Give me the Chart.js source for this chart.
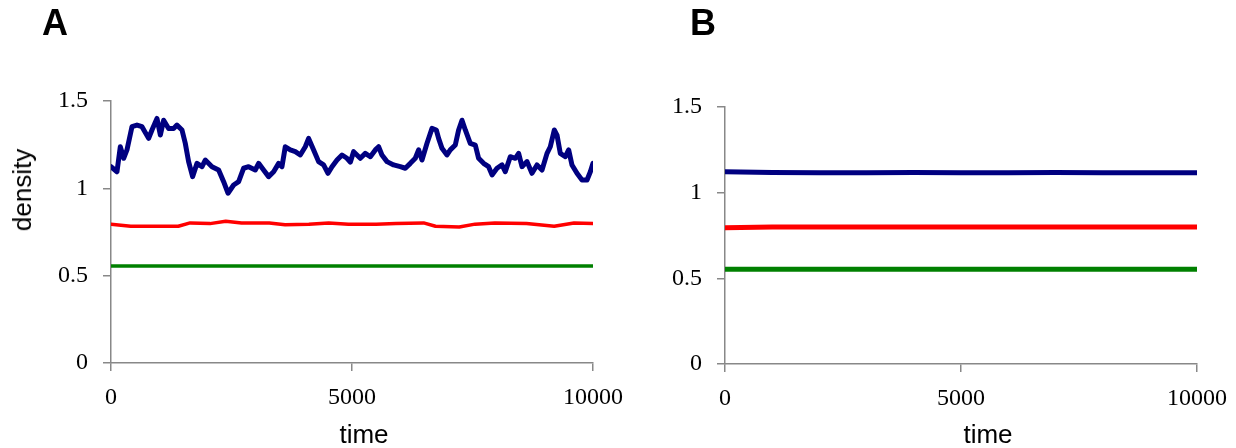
<!DOCTYPE html>
<html>
<head>
<meta charset="utf-8">
<script src="https://cdn.jsdelivr.net/npm/chart.js@4.4.1/dist/chart.umd.min.js"></script>
<style>
  html, body { margin: 0; padding: 0; background: #fff; }
  body { width: 1236px; height: 448px; position: relative; overflow: hidden; font-family: "Liberation Sans", Arial, sans-serif; color: #000; }
  canvas { position: absolute; top: 0; }
  #chartA { left: 0; }
  #chartB { left: 650px; }
  .panel { position: absolute; top: 5px; font-weight: bold; font-size: 36px; line-height: 36px; }
  .xtitle { position: absolute; top: 421px; font-size: 26px; line-height: 26px; transform: translateX(-50%); }
  .ytitle { position: absolute; left: 22px; top: 190px; font-size: 26px; line-height: 26px; white-space: nowrap; transform: translate(-50%, -50%) rotate(-90deg); }
</style>
</head>
<body>
<canvas id="chartA" width="650" height="448"></canvas>
<canvas id="chartB" width="586" height="448"></canvas>
<div class="panel" style="left:42px">A</div>
<div class="panel" style="left:690px">B</div>
<div class="ytitle">density</div>
<div class="xtitle" style="left:364px">time</div>
<div class="xtitle" style="left:988px">time</div>
<script>
// tick labels
const xTicks = [0, 5000, 10000];
const yTicks = [0, 0.5, 1, 1.5];

// panel A
const blueTimeA = [0, 124, 193, 263, 331, 435, 539, 643, 781, 850, 954, 1024, 1092, 1195, 1299, 1368, 1473, 1541, 1610, 1693,
  1784, 1888, 1956, 2095, 2233, 2337, 2427, 2544, 2648, 2752, 2855, 2993, 3063, 3166, 3270, 3374, 3478, 3547, 3616, 3720,
  3824, 3927, 4031, 4100, 4204, 4307, 4411, 4502, 4585, 4689, 4793, 4896, 4965, 5033, 5172, 5276, 5380, 5484, 5552, 5621,
  5726, 5863, 6002, 6106, 6210, 6313, 6382, 6452, 6556, 6660, 6749, 6797, 6867, 6971, 7039, 7143, 7212, 7282, 7351, 7454,
  7558, 7627, 7730, 7834, 7905, 8008, 8112, 8180, 8284, 8388, 8457, 8527, 8631, 8734, 8838, 8942, 9046, 9114, 9197, 9253,
  9322, 9426, 9495, 9564, 9668, 9772, 9876, 9945, 10000];
const blueA = [1.124, 1.095, 1.238, 1.172, 1.22, 1.353, 1.362, 1.353, 1.286, 1.334, 1.40, 1.305, 1.39, 1.343, 1.343, 1.362, 1.334, 1.258, 1.153, 1.067,
  1.143, 1.124, 1.162, 1.124, 1.105, 1.038, 0.972, 1.019, 1.038, 1.115, 1.124, 1.105, 1.143, 1.105, 1.067, 1.095, 1.143, 1.124, 1.238, 1.22,
  1.21, 1.191, 1.238, 1.286, 1.22, 1.153, 1.134, 1.086, 1.124, 1.162, 1.191, 1.172, 1.15, 1.21, 1.172, 1.20, 1.181, 1.22, 1.238, 1.191,
  1.153, 1.134, 1.124, 1.115, 1.143, 1.172, 1.22, 1.162, 1.258, 1.343, 1.334, 1.286, 1.229, 1.191, 1.22, 1.248, 1.334, 1.39, 1.334, 1.258,
  1.248, 1.172, 1.143, 1.124, 1.077, 1.115, 1.134, 1.095, 1.181, 1.172, 1.20, 1.124, 1.153, 1.086, 1.134, 1.105, 1.20, 1.238, 1.334, 1.305,
  1.20, 1.181, 1.22, 1.134, 1.086, 1.048, 1.048, 1.095, 1.143];

const redTimeA = [0, 410, 985, 1396, 1642, 2053, 2381, 2709, 3284, 3612, 4105, 4516, 4926, 5501, 5911, 6486, 6732, 7225, 7553, 7964, 8621, 9195, 9606, 10000];
const redA = [0.795, 0.783, 0.783, 0.783, 0.802, 0.798, 0.812, 0.802, 0.802, 0.791, 0.795, 0.802, 0.795, 0.795, 0.798, 0.802, 0.783, 0.779, 0.795, 0.802, 0.798, 0.783, 0.802, 0.798];

const greenTimeA = [0, 5000, 10000];
const greenA = [0.555, 0.555, 0.555];

// panel B
const timeB = [0, 1000, 2000, 3000, 4000, 5000, 6000, 7000, 8000, 9000, 10000];
const blueB = [1.122, 1.117, 1.116, 1.116, 1.117, 1.116, 1.116, 1.117, 1.116, 1.116, 1.116];
const redB = [0.795, 0.80, 0.80, 0.80, 0.80, 0.80, 0.80, 0.80, 0.80, 0.80, 0.80];
const greenB = [0.553, 0.553, 0.553, 0.553, 0.553, 0.553, 0.553, 0.553, 0.553, 0.553, 0.553];

function pts(xs, ys) {
  return xs.map((x, i) => ({ x: x, y: ys[i] }));
}

function line(xs, ys, color, width) {
  return { data: pts(xs, ys), borderColor: color, borderWidth: width, borderJoinStyle: 'round', borderCapStyle: 'round',
    pointRadius: 0, tension: 0, fill: false };
}

function axis(min, max, ticks, pad, fit) {
  return {
    type: 'linear', min: min, max: max,
    afterBuildTicks: s => { s.ticks = ticks.map(v => ({ value: v })); },
    afterFit: fit,
    ticks: {
      color: '#000',
      font: { family: '"Liberation Serif", "Times New Roman", serif', size: 24 },
      padding: pad,
      callback: v => String(v)
    },
    grid: { drawOnChartArea: false, drawTicks: true, tickLength: 8, color: '#888', lineWidth: 1.5 },
    border: { display: true, color: '#888', width: 1.5 },
    title: { display: false }
  };
}

function makeChart(id, datasets, yWidth, padTop, padRight, xHeight) {
  return new Chart(document.getElementById(id), {
    type: 'line',
    data: { datasets: datasets },
    options: {
      responsive: false,
      animation: false,
      layout: { padding: { top: padTop, right: padRight, left: 0, bottom: 0 }, autoPadding: false },
      plugins: { legend: { display: false }, tooltip: { enabled: false } },
      scales: {
        x: axis(0, 10000, xTicks, 12, s => { s.height = xHeight; s.paddingLeft = 0; s.paddingRight = 0; }),
        y: axis(0, 1.5, yTicks, 15, s => { s.width = yWidth; s.paddingTop = 0; s.paddingBottom = 0; })
      }
    }
  });
}

makeChart('chartA', [
  line(greenTimeA, greenA, '#008000', 3.5),
  line(redTimeA, redA, '#ff0000', 3.5),
  line(blueTimeA, blueA, '#000080', 5)
], 111, 101, 57, 85);

makeChart('chartB', [
  line(timeB, greenB, '#008000', 5),
  line(timeB, redB, '#ff0000', 5),
  line(timeB, blueB, '#000080', 5)
], 75, 107, 39, 84);
</script>
</body>
</html>
